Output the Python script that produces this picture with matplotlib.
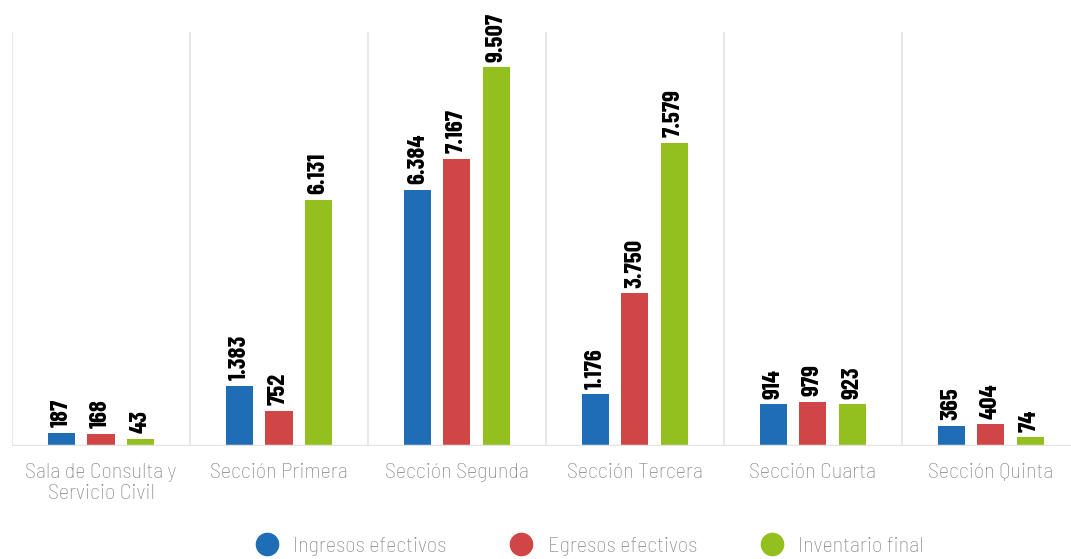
import matplotlib.pyplot as plt
from matplotlib.lines import Line2D
import numpy as np

categorias = ["Sala de Consulta y\nServicio Civil", "Sección Primera", "Sección Segunda",
              "Sección Tercera", "Sección Cuarta", "Sección Quinta"]
ingresos = [187, 1383, 6384, 1176, 914, 365]
egresos = [168, 752, 7167, 3750, 979, 404]
inventario = [43, 6131, 9507, 7579, 923, 74]
series = ["Ingresos efectivos", "Egresos efectivos", "Inventario final"]
colores = ["#1f6eb5", "#d04545", "#93c01f"]

fuentes = ['Barlow Condensed', 'Roboto Condensed', 'Asap Condensed', 'DejaVu Sans']
fuentes_texto = ['Barlow Semi Condensed'] + fuentes
plt.rcParams['font.family'] = fuentes

fig = plt.figure(figsize=(10.71, 5.59), dpi=100)
ax = fig.add_axes([12/1071, 1 - 446/559, 1 - 12/1071, (446 - 32)/559])

x = np.arange(len(categorias))
w = 0.152
off = 0.22
base = -145  # las barras arrancan un poco por debajo del cero

def fmt(v):
    return f"{v:,}".replace(",", ".")

for k, vals in enumerate([ingresos, egresos, inventario]):
    pos = x + (k - 1) * off
    ax.bar(pos, np.array(vals) - base, bottom=base, width=w, color=colores[k], zorder=3)
    for p, v in zip(pos, vals):
        ax.annotate(fmt(v), (p, v), xytext=(0, 4), textcoords='offset points',
                    rotation=90, ha='center', va='bottom', fontsize=18,
                    fontweight='bold', color='black')

ax.set_xlim(-0.5, 5.45)
ax.set_ylim(base, 10400)
for s in [-0.5, 0.5, 1.5, 2.5, 3.5, 4.5]:
    ax.axvline(s, color='#e6e6e6', lw=1.3, zorder=1)
ax.axhline(base, color='#e3e3e3', lw=2.5, zorder=4)
for sp in ax.spines.values():
    sp.set_visible(False)
ax.set_yticks([])
ax.set_xticks(x)
ax.set_xticklabels(categorias, fontsize=16, color='#858585', linespacing=1.15,
                   fontweight='light', family=fuentes_texto)
ax.tick_params(axis='x', length=0, pad=12)

handles = [Line2D([], [], marker='o', ls='', markersize=16, color=c) for c in colores]
leg = fig.legend(handles, series, loc='center', bbox_to_anchor=(584/1071, 1 - 546/559),
                 ncol=3, frameon=False, fontsize=16, labelcolor='#858585',
                 handletextpad=0.2, columnspacing=2.35)
for t in leg.get_texts():
    t.set_fontweight('light')
    t.set_family(fuentes_texto)

fig.savefig('out.png', dpi=100)
